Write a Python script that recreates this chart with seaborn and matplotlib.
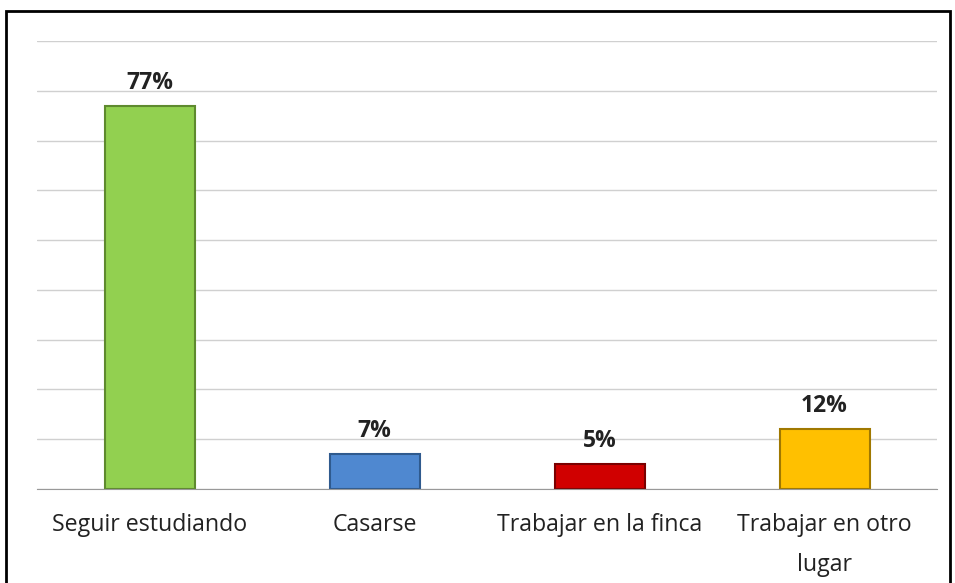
import matplotlib.pyplot as plt
import seaborn as sns
import pandas as pd
from matplotlib.patches import Rectangle

categorias = ["Seguir estudiando", "Casarse", "Trabajar en la finca", "Trabajar en otro\nlugar"]
valores = [77, 7, 5, 12]
etiquetas = ["77%", "7%", "5%", "12%"]
colores = ["#92d050", "#4f88d0", "#d00000", "#ffc000"]
bordes = ["#5e8a2e", "#2f5a8e", "#7a0000", "#a07800"]

df = pd.DataFrame({"cat": categorias, "val": valores})

sns.set_style("white")
plt.rcParams['font.family'] = ['Open Sans', 'DejaVu Sans']

fig = plt.figure(figsize=(9.55, 5.83), dpi=100)
ax = fig.add_axes([37/955, 1-489/583, 900/955, 448/583])

sns.barplot(data=df, x="cat", y="val", hue="cat", palette=colores, legend=False,
            width=0.4, ax=ax, saturation=1)
for p, b in zip(ax.patches, bordes):
    p.set_edgecolor(b)
    p.set_linewidth(1.5)

ax.set_ylim(0, 90)
ax.set_xlim(-0.5, 3.5)
ax.set_yticks(range(0, 91, 10))
ax.yaxis.grid(True, color="#d0d0d0", linewidth=1)
ax.set_axisbelow(True)
ax.tick_params(axis="y", left=False, labelleft=False)
ax.tick_params(axis="x", bottom=False, labelsize=16.7, pad=14, colors="#222222")
for lbl in ax.get_xticklabels():
    lbl.set_linespacing(1.85)
ax.set_xlabel("")
ax.set_ylabel("")
for s in ["top", "right", "left"]:
    ax.spines[s].set_visible(False)
ax.spines["bottom"].set_color("#999999")

for i, (v, t) in enumerate(zip(valores, etiquetas)):
    ax.text(i, v + 2.2, t, ha="center", va="bottom", fontsize=16.5, fontweight="bold", color="#222222")

fig.patches.append(Rectangle((6/955, -0.05), 944/955, 1.05 - 11/583, transform=fig.transFigure,
                             fill=False, edgecolor="black", linewidth=2))

fig.savefig("out.png", dpi=100)
